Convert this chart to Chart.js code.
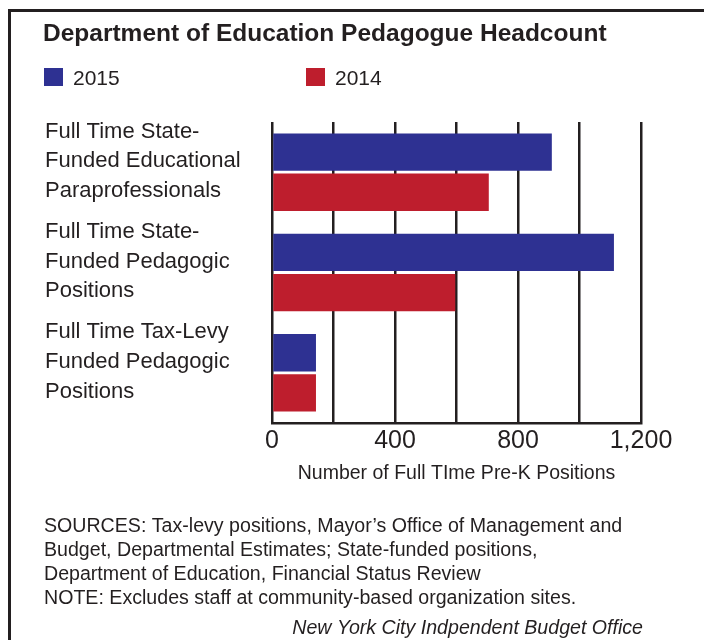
<!DOCTYPE html>
<html>
<head>
<meta charset="utf-8">
<script src="https://cdn.jsdelivr.net/npm/chart.js@4.4.1/dist/chart.umd.min.js"></script>
<style>
  html, body { margin: 0; padding: 0; background: #fff; }
</style>
</head>
<body>
<canvas id="chart" width="704" height="640"></canvas>
<script>
const categories = [
  ["Full Time State-", "Funded Educational", "Paraprofessionals"],
  ["Full Time State-", "Funded Pedagogic", "Positions"],
  ["Full Time Tax-Levy", "Funded Pedagogic", "Positions"]
];
const values2015 = [910, 1112, 143];
const values2014 = [705, 596, 143];
const tickLabels = { 0: "0", 400: "400", 800: "800", 1200: "1,200" };

const title = "Department of Education Pedagogue Headcount";
const axisTitle = "Number of Full TIme Pre-K Positions";
const sourceLines = [
  "SOURCES: Tax-levy positions, Mayor\u2019s Office of Management and",
  "Budget, Departmental Estimates; State-funded positions,",
  "Department of Education, Financial Status Review",
  "NOTE: Excludes staff at community-based organization sites."
];
const credit = "New York City Indpendent Budget Office";

const ink = "#231f20";
const blue = "#2e3192";
const red = "#be1e2d";
const font = "'Liberation Sans', Arial, sans-serif";

// title, legend, notes and the frame around the graphic
const decor = {
  id: "decor",
  afterDraw(chart) {
    const ctx = chart.ctx;
    ctx.save();
    ctx.strokeStyle = ink;
    ctx.lineWidth = 3;
    ctx.strokeRect(9.5, 10.5, 720, 660);

    ctx.fillStyle = ink;
    ctx.textBaseline = "alphabetic";
    ctx.font = "bold 24.5px " + font;
    ctx.fillText(title, 43, 41);

    const legendX = [44, 306];
    chart.data.datasets.forEach((ds, i) => {
      ctx.fillStyle = ds.backgroundColor;
      ctx.fillRect(legendX[i], 68, 19, 18);
      ctx.fillStyle = ink;
      ctx.font = "21px " + font;
      ctx.fillText(ds.label, legendX[i] + 29, 85);
    });

    ctx.font = "19.6px " + font;
    sourceLines.forEach((line, i) => ctx.fillText(line, 44, 532 + i * 24));
    ctx.font = "italic 19.6px " + font;
    ctx.textAlign = "right";
    ctx.fillText(credit, 643, 634);
    ctx.restore();
  }
};

new Chart(document.getElementById("chart"), {
  type: "bar",
  data: {
    labels: categories,
    datasets: [
      { label: "2015", data: values2015, backgroundColor: blue },
      { label: "2014", data: values2014, backgroundColor: red }
    ]
  },
  options: {
    indexAxis: "y",
    responsive: false,
    animation: false,
    layout: { padding: { left: 45, top: 122, right: 63, bottom: 155 } },
    datasets: { bar: { categoryPercentage: 0.8, barPercentage: 0.93 } },
    plugins: {
      legend: { display: false },
      title: { display: false },
      tooltip: { enabled: false }
    },
    scales: {
      x: {
        min: 0,
        max: 1200,
        ticks: {
          stepSize: 200,
          padding: 3,
          autoSkip: false,
          maxRotation: 0,
          minRotation: 0,
          color: ink,
          font: { family: font, size: 25 },
          callback: (v) => tickLabels[v] ?? ""
        },
        grid: { color: ink, lineWidth: 2.5, drawTicks: false },
        border: { color: ink, width: 2.5 },
        title: {
          display: true,
          text: axisTitle,
          color: ink,
          padding: { top: 0, bottom: 0 },
          font: { family: font, size: 19.5 }
        },
        afterFit: (scale) => { scale.height = 62; }
      },
      y: {
        ticks: {
          crossAlign: "far",
          labelOffset: -11,
          color: ink,
          font: { family: font, size: 22, lineHeight: 1.35 }
        },
        grid: { display: false },
        border: { display: false },
        afterFit: (scale) => { scale.width = 227; }
      }
    }
  },
  plugins: [decor]
});
</script>
</body>
</html>
